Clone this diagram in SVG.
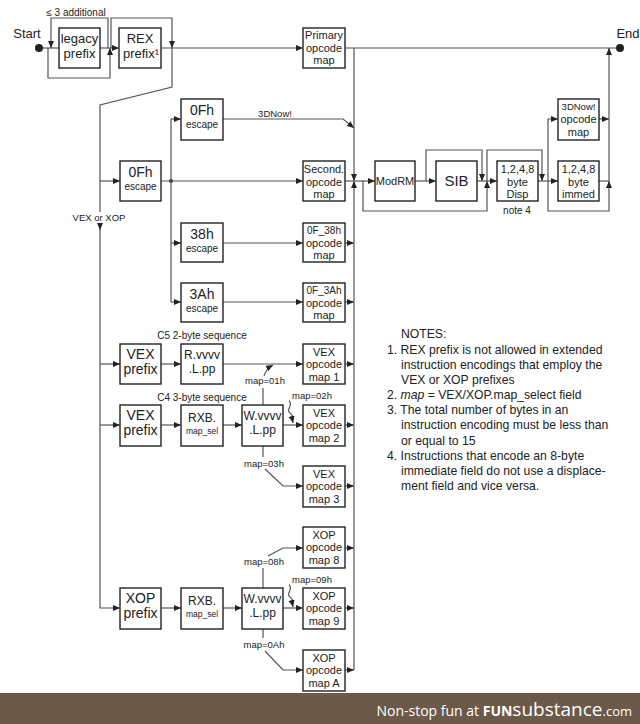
<svg xmlns="http://www.w3.org/2000/svg" width="640" height="724" viewBox="0 0 640 724">
<defs>
<marker id="a" markerUnits="userSpaceOnUse" markerWidth="7" markerHeight="6" refX="7" refY="3" orient="auto">
<path d="M0,0 L7,3 L0,6 z" fill="#222"/>
</marker>
<style>
.b{fill:#fff;stroke:#222;stroke-width:1.4}
.c{fill:none;stroke:#555;stroke-width:1.2}
.m{marker-end:url(#a)}
text{font-family:"Liberation Sans",Arial,sans-serif;fill:#222;text-anchor:middle}
.t13{font-size:13px}
.t12{font-size:12px}
.t14{font-size:14px}
.t11{font-size:11px}
.t10{font-size:10px}
.t9{font-size:9.5px}
.t8{font-size:8.5px}
.n{font-size:12.2px;text-anchor:start}
</style>
</defs>
<rect width="640" height="724" fill="#fff"/>

<g id="connectors">
<path class="c" d="M39,48 H59"/>
<path class="c m" d="M108,48 V18 H51 V48"/>
<path class="c m" d="M48,48 V78 H110 V48"/>
<path class="c m" d="M100,48 H119"/>
<path class="c m" d="M111,48 V18 H172 V48"/>
<path class="c m" d="M161,48 H303"/>
<path class="c" d="M345,48 H620"/>
<path class="c" d="M172,48 V87 L100,105 V212"/>
<path class="c m" d="M100,223 V230"/>
<path class="c m" d="M100,228 V608 H120"/>
<path class="c m" d="M100,181 H120"/>
<path class="c m" d="M100,364 H120"/>
<path class="c m" d="M100,425 H120"/>
<path class="c m" d="M161,181 H303"/>
<circle cx="171" cy="181" r="2" fill="#333"/>
<path class="c" d="M171,119 V302"/>
<path class="c m" d="M171,119 H181"/>
<path class="c m" d="M171,243 H181"/>
<path class="c m" d="M171,302 H181"/>
<path class="c m" d="M223,119 H343 L354,128"/>
<path class="c m" d="M223,243 H303"/>
<path class="c m" d="M223,302 H303"/>
<path class="c m" d="M345,243 H354"/>
<path class="c m" d="M345,302 H354"/>
<path class="c m" d="M345,364 H354"/>
<path class="c m" d="M345,425 H354"/>
<path class="c m" d="M345,486 H354"/>
<path class="c m" d="M345,548 H354"/>
<path class="c m" d="M345,608 H354"/>
<path class="c m" d="M345,670 H354"/>
<path class="c m" d="M354,48 V181"/>
<path class="c m" d="M354,670 V181"/>
<path class="c m" d="M345,181 H375"/>
<path class="c m" d="M161,364 H181"/>
<path class="c m" d="M223,364 H303"/>
<path class="c m" d="M161,425 H181"/>
<path class="c m" d="M223,425 H242"/>
<path class="c m" d="M283,425 H303"/>
<path class="c" d="M263,405 V388"/>
<path class="c m" d="M264,376 Q266,369 273,365"/>
<path class="c m" d="M289,401 C294,405 285,410 290,413 C294,415 292,418 293,423"/>
<path class="c" d="M263,446 V457"/>
<path class="c m" d="M265,469 L283,486 H303"/>
<path class="c m" d="M161,608 H181"/>
<path class="c m" d="M223,608 H242"/>
<path class="c m" d="M283,608 H303"/>
<path class="c" d="M263,588 V568"/>
<path class="c m" d="M268,556 L283,548 H303"/>
<path class="c m" d="M289,585 C294,589 285,594 290,597 C294,599 292,602 293,607"/>
<path class="c" d="M263,629 V638"/>
<path class="c m" d="M265,651 L283,670 H303"/>
<path class="c m" d="M363,181 V211 H487 V181"/>
<path class="c m" d="M415,181 H436"/>
<path class="c m" d="M426,181 V150 H482 V181"/>
<path class="c m" d="M477,181 H497"/>
<path class="c m" d="M487,181 V150 H542 V181"/>
<path class="c m" d="M538,181 H558"/>
<path class="c m" d="M548,181 V119 H558"/>
<path class="c m" d="M548,181 V211 H609 V181"/>
<path class="c" d="M599,181 H609"/>
<path class="c m" d="M609,181 V48"/>
<path class="c m" d="M599,119 H609"/>
<circle cx="39" cy="48" r="4" fill="#222"/>
<circle cx="620" cy="48" r="4" fill="#222"/>
</g>

<g id="labels">
<text class="t13" x="27" y="38">Start</text>
<text class="t13" x="628" y="38">End</text>
<text class="t10" x="76" y="16">≤ 3 additional</text>
<text class="t9" x="275" y="117">3DNow!</text>
<text class="t9" x="99" y="221">VEX or XOP</text>
<text class="t10" x="202" y="339">C5 2-byte sequence</text>
<text class="t10" x="202" y="401">C4 3-byte sequence</text>
<text class="t9" x="265" y="384">map=01h</text>
<text class="t9" x="312" y="399">map=02h</text>
<text class="t9" x="264" y="467">map=03h</text>
<text class="t9" x="264" y="565">map=08h</text>
<text class="t9" x="312" y="583">map=09h</text>
<text class="t9" x="264" y="648">map=0Ah</text>
<text class="t10" x="517" y="214">note 4</text>
</g>

<g id="legacy"><rect class="b" x="59" y="28" width="41" height="40"/><text class="t13" x="79.5" y="43">legacy</text><text class="t13" x="79.5" y="58">prefix</text></g>
<g id="rex"><rect class="b" x="119" y="28" width="42" height="40"/><text class="t13" x="140" y="43">REX</text><text class="t13" x="141" y="58">prefix¹</text></g>
<g id="primary"><rect class="b" x="303" y="28" width="42" height="40"/><text class="t11" x="324" y="39">Primary</text><text class="t11" x="324" y="51.5">opcode</text><text class="t11" x="324" y="64">map</text></g>

<g id="esc0f_top"><rect class="b" x="181" y="99" width="42" height="41"/><text class="t14" x="202" y="115">0Fh</text><text class="t10" x="202" y="128">escape</text></g>
<g id="esc0f"><rect class="b" x="120" y="161" width="41" height="40"/><text class="t14" x="140.5" y="177">0Fh</text><text class="t10" x="140.5" y="190">escape</text></g>
<g id="second"><rect class="b" x="303" y="161" width="42" height="40"/><text class="t11" x="324" y="173">Second.</text><text class="t11" x="324" y="185.5">opcode</text><text class="t11" x="324" y="198">map</text></g>
<g id="esc38"><rect class="b" x="181" y="223" width="42" height="39"/><text class="t14" x="202" y="239">38h</text><text class="t10" x="202" y="252">escape</text></g>
<g id="map38"><rect class="b" x="303" y="223" width="42" height="39"/><text class="t10" x="324" y="234">0F_38h</text><text class="t11" x="324" y="247">opcode</text><text class="t11" x="324" y="259">map</text></g>
<g id="esc3a"><rect class="b" x="181" y="283" width="42" height="39"/><text class="t14" x="202" y="299">3Ah</text><text class="t10" x="202" y="312">escape</text></g>
<g id="map3a"><rect class="b" x="303" y="283" width="42" height="39"/><text class="t10" x="324" y="294">0F_3Ah</text><text class="t11" x="324" y="307">opcode</text><text class="t11" x="324" y="319">map</text></g>

<g id="vexprefix1"><rect class="b" x="120" y="344" width="41" height="40"/><text class="t14" x="140.5" y="359">VEX</text><text class="t14" x="140.5" y="374">prefix</text></g>
<g id="rvvvv"><rect class="b" x="181" y="344" width="42" height="40"/><text class="t12" x="202" y="359">R.vvvv</text><text class="t12" x="202" y="373">.L.pp</text></g>
<g id="vexmap1"><rect class="b" x="303" y="344" width="42" height="40"/><text class="t11" x="324" y="355.5">VEX</text><text class="t11" x="324" y="368">opcode</text><text class="t11" x="324" y="380.5">map 1</text></g>

<g id="vexprefix2"><rect class="b" x="120" y="405" width="41" height="41"/><text class="t14" x="140.5" y="420">VEX</text><text class="t14" x="140.5" y="435">prefix</text></g>
<g id="rxb1"><rect class="b" x="181" y="405" width="42" height="41"/><text class="t12" x="202" y="422">RXB.</text><text class="t8" x="202" y="434">map_sel</text></g>
<g id="wvvvv1"><rect class="b" x="242" y="405" width="41" height="41"/><text class="t12" x="262.5" y="420">W.vvvv</text><text class="t12" x="262.5" y="434">.L.pp</text></g>
<g id="vexmap2"><rect class="b" x="303" y="405" width="42" height="41"/><text class="t11" x="324" y="416.5">VEX</text><text class="t11" x="324" y="429">opcode</text><text class="t11" x="324" y="441.5">map 2</text></g>
<g id="vexmap3"><rect class="b" x="303" y="466" width="42" height="41"/><text class="t11" x="324" y="477.5">VEX</text><text class="t11" x="324" y="490">opcode</text><text class="t11" x="324" y="502.5">map 3</text></g>

<g id="xopmap8"><rect class="b" x="303" y="527" width="42" height="41"/><text class="t11" x="324" y="538.5">XOP</text><text class="t11" x="324" y="551">opcode</text><text class="t11" x="324" y="563.5">map 8</text></g>
<g id="xopprefix"><rect class="b" x="120" y="588" width="41" height="41"/><text class="t14" x="140.5" y="603">XOP</text><text class="t14" x="140.5" y="618">prefix</text></g>
<g id="rxb2"><rect class="b" x="181" y="588" width="42" height="41"/><text class="t12" x="202" y="605">RXB.</text><text class="t8" x="202" y="617">map_sel</text></g>
<g id="wvvvv2"><rect class="b" x="242" y="588" width="41" height="41"/><text class="t12" x="262.5" y="603">W.vvvv</text><text class="t12" x="262.5" y="617">.L.pp</text></g>
<g id="xopmap9"><rect class="b" x="303" y="588" width="42" height="41"/><text class="t11" x="324" y="599.5">XOP</text><text class="t11" x="324" y="612">opcode</text><text class="t11" x="324" y="624.5">map 9</text></g>
<g id="xopmapA"><rect class="b" x="303" y="650" width="42" height="41"/><text class="t11" x="324" y="661.5">XOP</text><text class="t11" x="324" y="674">opcode</text><text class="t11" x="324" y="686.5">map A</text></g>

<g id="modrm"><rect class="b" x="375" y="161" width="40" height="40"/><text class="t11" x="395" y="185">ModRM</text></g>
<g id="sib"><rect class="b" x="436" y="161" width="41" height="40"/><text class="t14" x="456.5" y="186" style="font-size:15px">SIB</text></g>
<g id="disp"><rect class="b" x="497" y="161" width="41" height="40"/><text class="t11" x="517.5" y="173">1,2,4,8</text><text class="t11" x="517.5" y="185.5">byte</text><text class="t11" x="517.5" y="198">Disp</text></g>
<g id="immed"><rect class="b" x="558" y="161" width="41" height="40"/><text class="t11" x="578.5" y="173">1,2,4,8</text><text class="t11" x="578.5" y="185.5">byte</text><text class="t11" x="578.5" y="198">immed</text></g>
<g id="map3dnow"><rect class="b" x="558" y="99" width="41" height="41"/><text class="t9" x="578.5" y="110">3DNow!</text><text class="t11" x="578.5" y="123">opcode</text><text class="t11" x="578.5" y="136">map</text></g>

<g id="notes">
<text class="n" x="401" y="338">NOTES:</text>
<text class="n" x="387" y="353.5">1. REX prefix is not allowed in extended</text>
<text class="n" x="401" y="368.5">instruction encodings that employ the</text>
<text class="n" x="401" y="383.5">VEX or XOP prefixes</text>
<text class="n" x="387" y="399"><tspan>2. </tspan><tspan font-style="italic">map</tspan><tspan> = VEX/XOP.map_select field</tspan></text>
<text class="n" x="387" y="414">3. The total number of bytes in an</text>
<text class="n" x="401" y="429">instruction encoding must be less than</text>
<text class="n" x="401" y="444.5">or equal to 15</text>
<text class="n" x="387" y="459.5">4. Instructions that encode an 8-byte</text>
<text class="n" x="401" y="474.5">immediate field do not use a displace-</text>
<text class="n" x="401" y="489.5">ment field and vice versa.</text>
</g>

<g id="banner">
<rect x="0" y="693" width="640" height="31" fill="#6b5949"/>
<text x="632" y="716" style="text-anchor:end;font-family:'Open Sans','Noto Sans',sans-serif;fill:#fff;font-size:14px"><tspan>Non-stop fun at </tspan><tspan font-weight="bold">FUN</tspan><tspan font-size="19px">substance</tspan><tspan font-size="13px">.com</tspan></text>
</g>
</svg>
